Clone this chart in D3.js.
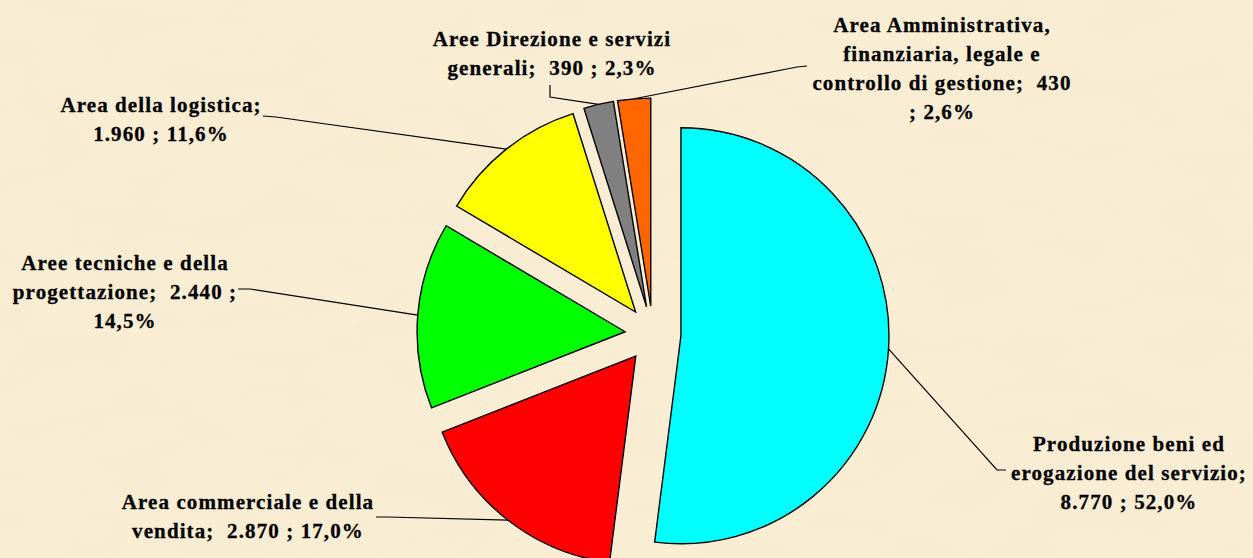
<!DOCTYPE html>
<html>
<head>
<meta charset="utf-8">
<script src="https://cdn.jsdelivr.net/npm/d3@7.9.0/dist/d3.min.js"></script>
<style>
  html, body { margin: 0; padding: 0; background: #f8edd3; overflow: hidden; }
  svg { display: block; }
  .label {
    font-family: "Liberation Serif", "Times New Roman", serif;
    font-weight: bold;
    font-size: 21px;
    letter-spacing: 1.1px;
    fill: #000;
    stroke: #000;
    stroke-width: 0.3px;
    white-space: pre;
  }
</style>
</head>
<body>
<svg id="chart" width="1253" height="558"></svg>
<script>
// data, in Excel order (first slice starts at 12 o'clock, clockwise)
const categories = [
  'Produzione beni ed erogazione del servizio',
  'Area commerciale e della vendita',
  'Aree tecniche e della progettazione',
  'Area della logistica',
  'Aree Direzione e servizi generali',
  'Area Amministrativa, finanziaria, legale e controllo di gestione'
];
const values = [8770, 2870, 2440, 1960, 390, 430];
const colors = ['#00ffff', '#ff0000', '#00ff00', '#ffff00', '#808080', '#ff6600'];

// label text as wrapped in the original
const labelLines = [
  ['Produzione beni ed', 'erogazione del servizio;', '8.770 ; 52,0%'],
  ['Area commerciale e della', 'vendita;  2.870 ; 17,0%'],
  ['Aree tecniche e della', 'progettazione;  2.440 ;', '14,5%'],
  ['Area della logistica;', '1.960 ; 11,6%'],
  ['Aree Direzione e servizi', 'generali;  390 ; 2,3%'],
  ['Area Amministrativa,', 'finanziaria, legale e', 'controllo di gestione;  430', '; 2,6%']
];

// layout
const cx = 653, cy = 334, radius = 208, explode = 28, lineGap = 29;
const labelPos = [
  { x: 1129, y: 451, elbow: [997, 470], end: [1006, 470] },
  { x: 248, y: 509, elbow: [388, 517], end: [376, 517] },
  { x: 125, y: 270, elbow: [250, 289], end: [238, 289] },
  { x: 161, y: 112, elbow: [276, 117], end: [263, 116] },
  { x: 552, y: 46, elbow: [550, 97], end: [550, 85] },
  { x: 942, y: 32, elbow: [797, 67], end: [807, 66] }
];

const svg = d3.select('#chart');

// parchment-like background
const defs = svg.append('defs');
const filt = defs.append('filter').attr('id', 'paper')
  .attr('x', 0).attr('y', 0).attr('width', '100%').attr('height', '100%');
filt.append('feTurbulence')
  .attr('type', 'fractalNoise')
  .attr('baseFrequency', '0.012 0.03')
  .attr('numOctaves', 3)
  .attr('seed', 7)
  .attr('result', 'noise');
filt.append('feColorMatrix')
  .attr('in', 'noise')
  .attr('type', 'matrix')
  .attr('values', '0 0 0 0 0.85  0 0 0 0 0.77  0 0 0 0 0.52  0 0 0 0.24 -0.08');

svg.append('rect').attr('width', 1253).attr('height', 558).attr('fill', '#f9eed4');
svg.append('rect').attr('width', 1253).attr('height', 558).attr('filter', 'url(#paper)');

const pie = d3.pie().sort(null).value(d => d);
const arcs = pie(values);
const arc = d3.arc().innerRadius(0).outerRadius(radius);
const rimArc = d3.arc().innerRadius(radius).outerRadius(radius);

function offset(d) {
  const mid = (d.startAngle + d.endAngle) / 2;
  return [cx + explode * Math.sin(mid), cy - explode * Math.cos(mid)];
}

const slices = svg.append('g');
slices.selectAll('path')
  .data(arcs)
  .join('path')
  .attr('transform', d => `translate(${offset(d)})`)
  .attr('d', arc)
  .attr('fill', (d, i) => colors[i])
  .attr('stroke', '#000')
  .attr('stroke-width', 1.4)
  .attr('stroke-linejoin', 'miter');

// leader lines
const line = d3.line();
svg.append('g').selectAll('path')
  .data(arcs)
  .join('path')
  .attr('d', (d, i) => {
    const o = offset(d);
    const c = rimArc.centroid(d);
    const p = labelPos[i];
    return line([[o[0] + c[0], o[1] + c[1]], p.elbow, p.end]);
  })
  .attr('fill', 'none')
  .attr('stroke', '#000')
  .attr('stroke-width', 1.2);

// labels
const labels = svg.append('g');
labelLines.forEach((lines, i) => {
  const p = labelPos[i];
  const t = labels.append('text')
    .attr('class', 'label')
    .attr('text-anchor', 'middle')
    .attr('x', p.x)
    .attr('y', p.y);
  t.selectAll('tspan')
    .data(lines)
    .join('tspan')
    .attr('x', p.x)
    .attr('dy', (d, j) => j === 0 ? 0 : lineGap)
    .text(d => d);
  t.append('title').text(`${categories[i]}: ${values[i]}`);
});
</script>
</body>
</html>
